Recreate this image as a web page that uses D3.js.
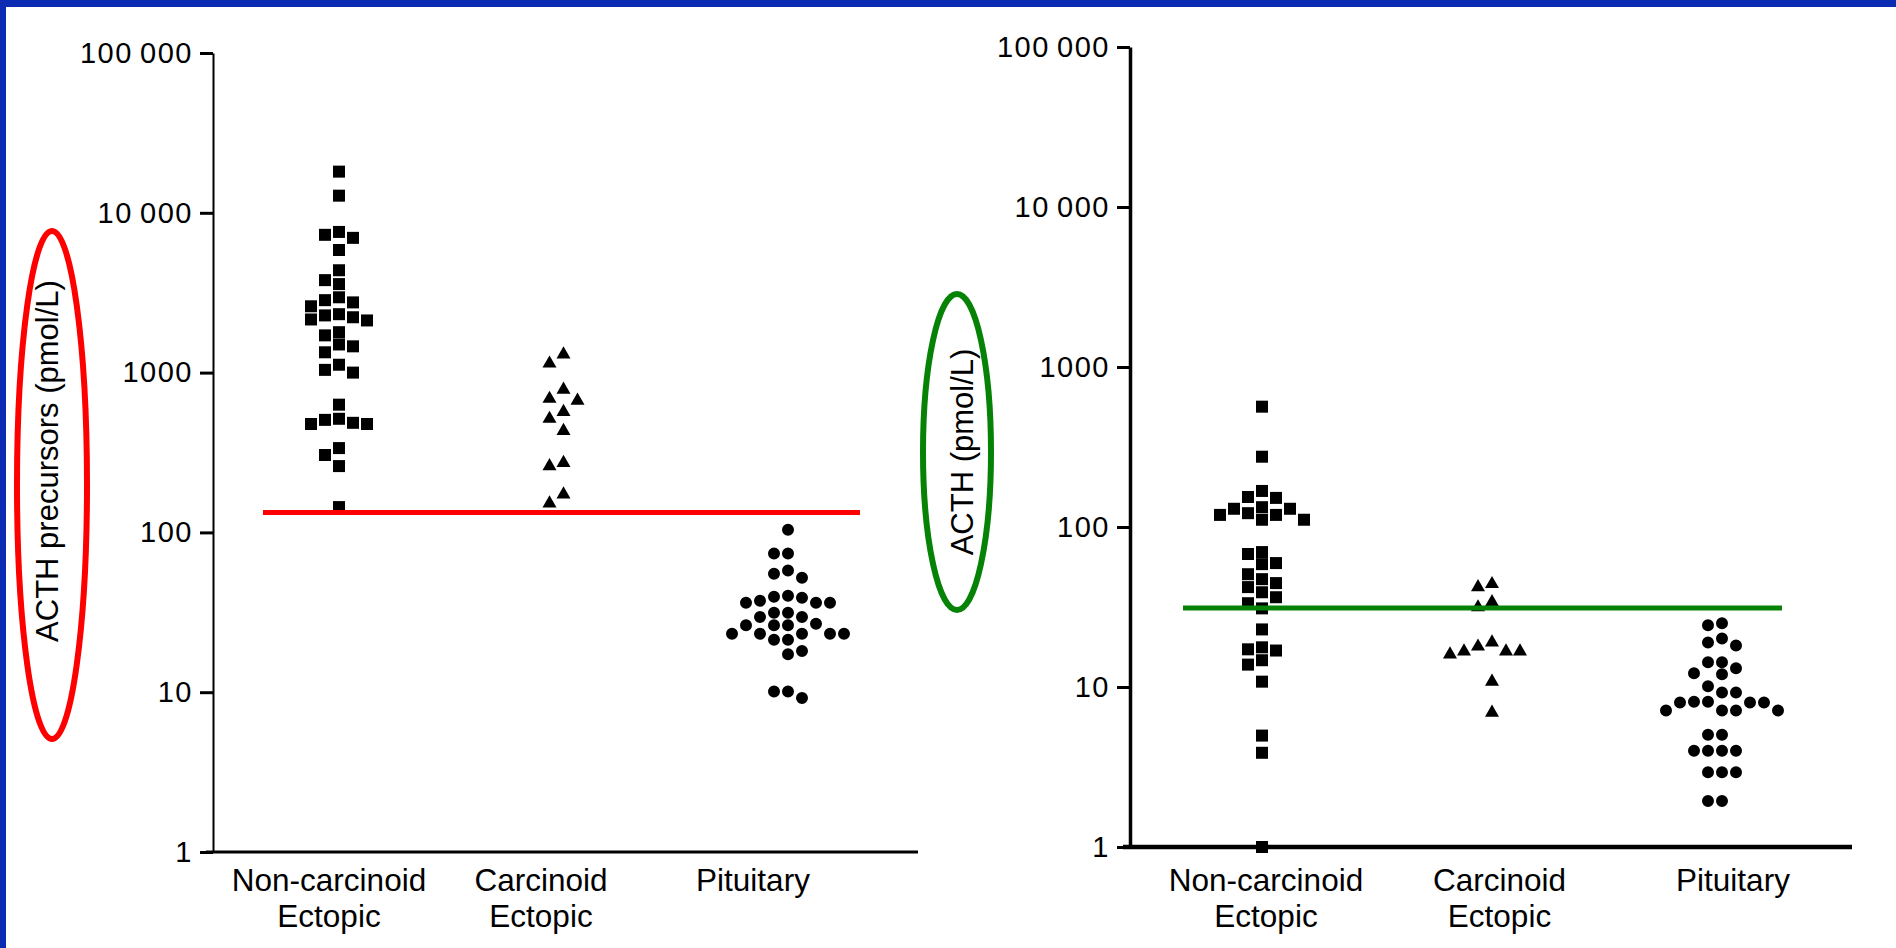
<!DOCTYPE html>
<html>
<head>
<meta charset="utf-8">
<title>ACTH precursors and ACTH</title>
<script src="https://d3js.org/d3.v7.min.js"></script>
<style>
  body { margin: 0; background: #fff; }
  text { font-family: "Liberation Sans", Arial, sans-serif; fill: #000; }
</style>
</head>
<body>
<div id="chart"></div>
<script>
// categories and tick labels
var categories = ["Non-carcinoid Ectopic", "Carcinoid Ectopic", "Pituitary"];
var categoryLines = [["Non-carcinoid", "Ectopic"], ["Carcinoid", "Ectopic"], ["Pituitary"]];
var tickValues = [1, 10, 100, 1000, 10000, 100000];
var tickLabels = ["1", "10", "100", "1000", "10\u2009000", "100\u2009000"];

// left panel: ACTH precursors (pmol/L)
var precursorsNonCarcinoid = [18100, 12800, 7590, 7280, 6970, 5850, 4370, 3790, 3580, 2960, 2840, 2750,
  2600, 2320, 2280, 2220, 2150, 2120, 1790, 1710, 1500, 1460, 1340, 1120, 1040, 1000, 630, 514, 506,
  485, 477, 477, 337, 305, 260, 144];
var precursorsCarcinoid = [1300, 1140, 782, 686, 667, 568, 514, 432, 272, 260, 173, 152];
var precursorsPituitary = [104, 73.8, 73.8, 57.7, 55.2, 52.1, 40.2, 39.6, 39.0, 37.4, 36.3, 36.3, 36.3,
  31.4, 31.4, 29.6, 29.6, 26.8, 26.2, 26.2, 26.2, 23.2, 23.2, 23.2, 23.2, 23.2, 21.3, 21.3, 18.1, 17.3,
  10.1, 10.1, 9.2];
var precursorsCutoff = 133;

// right panel: ACTH (pmol/L)
var acthNonCarcinoid = [565, 275, 168, 154, 152, 133, 130, 130, 122, 119, 119, 111, 111, 69.7, 67.8,
  59.5, 58.6, 50.7, 47.2, 44.6, 42.1, 39.1, 36.4, 33.4, 31.0, 22.9, 17.7, 17.2, 16.9, 14.7, 13.8, 10.8,
  4.97, 3.88, 1];
var acthCarcinoid = [44.0, 42.1, 33.9, 31.5, 19.0, 17.9, 16.7, 16.7, 16.7, 16.0, 10.8, 6.92];
var acthPituitary = [25.0, 24.3, 20.1, 19.0, 18.2, 14.3, 14.3, 13.1, 12.2, 12.0, 10.1, 9.25, 9.25, 8.1,
  8.1, 8.0, 8.0, 8.0, 7.13, 7.13, 7.13, 7.13, 5.03, 5.03, 4.0, 4.0, 4.0, 4.0, 2.93, 2.93, 2.93, 1.94, 1.94];
var acthCutoff = 31.2;

var symbolTypes = [d3.symbolSquare, d3.symbolTriangle, d3.symbolCircle];
var symbolSizes = [144, 85, 113];

function drawChart() {
    var svg = d3.select("#chart").append("svg")
        .attr("width", 1896)
        .attr("height", 948);

    // blue slide frame
    svg.append("rect").attr("x", 0).attr("y", 0).attr("width", 1896).attr("height", 7).attr("fill", "#0b2bb3");
    svg.append("rect").attr("x", 0).attr("y", 0).attr("width", 6).attr("height", 948).attr("fill", "#0b2bb3");

    drawPanel(svg, {
        series: [precursorsNonCarcinoid, precursorsCarcinoid, precursorsPituitary],
        cutoff: precursorsCutoff,
        axisX: 213, xEnd: 918, yTop: 53, yBottom: 852,
        pointRange: [339, 788], labelRange: [329, 753],
        lineFrom: 263, lineTo: 860, lineColor: "#ff0000",
        axisWidth: 2, baseWidth: 3,
        title: "ACTH precursors (pmol/L)", titleX: 47, titleY: 461,
        ellipse: {cx: 52, cy: 485, rx: 35, ry: 254}
    });

    drawPanel(svg, {
        series: [acthNonCarcinoid, acthCarcinoid, acthPituitary],
        cutoff: acthCutoff,
        axisX: 1130, xEnd: 1852, yTop: 47, yBottom: 847,
        pointRange: [1262, 1722], labelRange: [1266, 1733],
        lineFrom: 1183, lineTo: 1782, lineColor: "#068206",
        axisWidth: 3.5, baseWidth: 4.5,
        title: "ACTH (pmol/L)", titleX: 962, titleY: 452,
        ellipse: {cx: 957, cy: 452, rx: 34, ry: 158}
    });
}

function swarm(values, y, minGap) {
    var order = values.map(function(v, i) { return i; })
        .sort(function(a, b) { return values[b] - values[a]; });
    var lanes = {};
    var out = [];
    order.forEach(function(i) {
        var py = y(values[i]);
        for (var k = 0; k < 30; k++) {
            var lane = k === 0 ? 0 : (k % 2 ? -(k + 1) / 2 : k / 2);
            var taken = lanes[lane] || [];
            var free = taken.every(function(t) { return Math.abs(t - py) >= minGap; });
            if (free) {
                taken.push(py);
                lanes[lane] = taken;
                out.push({value: values[i], lane: lane});
                break;
            }
        }
    });
    return out;
}

function drawPanel(svg, p) {
    var y = d3.scaleLog().domain([1, 100000]).range([p.yBottom, p.yTop]);
    var x = d3.scalePoint().domain(categories).range(p.pointRange);
    var xLabel = d3.scalePoint().domain(categories).range(p.labelRange);
    var laneWidth = 14;

    // y axis
    var axis = d3.axisLeft(y)
        .tickValues(tickValues)
        .tickFormat(function(d, i) { return tickLabels[i]; })
        .tickSize(13)
        .tickSizeOuter(0)
        .tickPadding(7);

    var g = svg.append("g")
        .attr("transform", "translate(" + p.axisX + ",0)")
        .call(axis);
    g.select(".domain").attr("stroke", "#000").attr("stroke-width", p.axisWidth);
    g.selectAll(".tick line").attr("stroke", "#000").attr("stroke-width", 3);
    g.selectAll(".tick text")
        .style("font-family", "'Liberation Sans', Arial, sans-serif")
        .style("font-size", "29px")
        .style("letter-spacing", "1.5px")
        .attr("fill", "#000");

    // x baseline
    svg.append("line")
        .attr("x1", p.axisX - 7).attr("x2", p.xEnd)
        .attr("y1", y(1)).attr("y2", y(1))
        .attr("stroke", "#000")
        .attr("stroke-width", p.baseWidth);

    // category labels
    categories.forEach(function(cat, ci) {
        var t = svg.append("text")
            .attr("x", xLabel(cat))
            .attr("y", 891)
            .attr("text-anchor", "middle")
            .style("font-size", "31.5px");
        categoryLines[ci].forEach(function(line, li) {
            t.append("tspan")
                .attr("x", xLabel(cat))
                .attr("dy", li === 0 ? 0 : 36)
                .text(line);
        });
    });

    // points
    p.series.forEach(function(values, si) {
        var pts = swarm(values, y, 12);
        svg.append("g").selectAll("path")
            .data(pts)
            .enter().append("path")
            .attr("d", d3.symbol().type(symbolTypes[si]).size(symbolSizes[si]))
            .attr("transform", function(d) {
                return "translate(" + (x(categories[si]) + d.lane * laneWidth) + "," + y(d.value) + ")";
            })
            .attr("fill", "#000");
    });

    // cut-off line
    svg.append("line")
        .attr("x1", p.lineFrom).attr("x2", p.lineTo)
        .attr("y1", y(p.cutoff)).attr("y2", y(p.cutoff))
        .attr("stroke", p.lineColor)
        .attr("stroke-width", 5);

    // y label with highlight ellipse
    svg.append("text")
        .attr("transform", "translate(" + p.titleX + "," + p.titleY + ") rotate(-90)")
        .attr("text-anchor", "middle")
        .attr("dy", "0.35em")
        .style("font-size", "31px")
        .text(p.title);

    svg.append("ellipse")
        .attr("cx", p.ellipse.cx).attr("cy", p.ellipse.cy)
        .attr("rx", p.ellipse.rx).attr("ry", p.ellipse.ry)
        .attr("fill", "none")
        .attr("stroke", p.lineColor)
        .attr("stroke-width", 6);
}

drawChart();
</script>
</body>
</html>
